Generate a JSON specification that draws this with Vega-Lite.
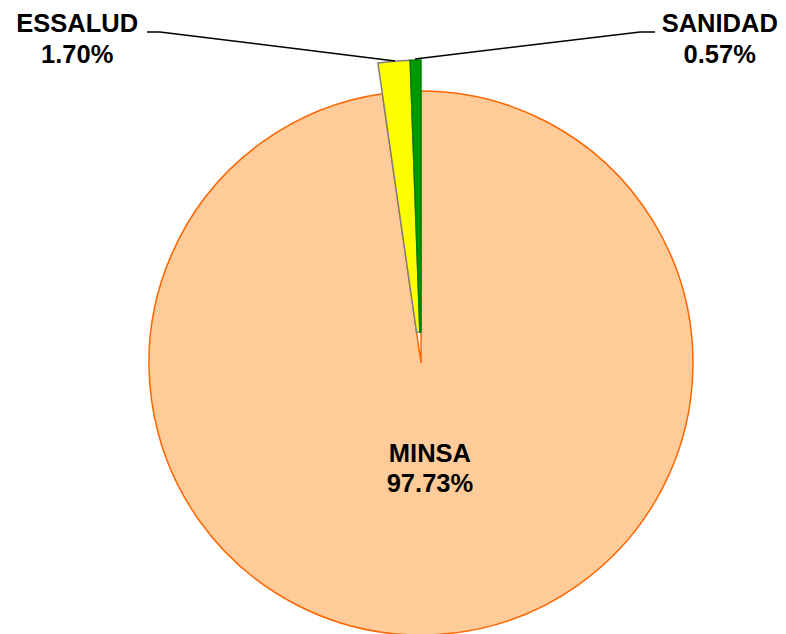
{
  "$schema": "https://vega.github.io/schema/vega-lite/v6.json",
  "width": 730,
  "height": 542,
  "autosize": {"type": "none"},
  "padding": {"left": 56, "top": 92, "right": 0, "bottom": 0},
  "background": "white",
  "view": {"stroke": null},
  "config": {"font": "Liberation Sans"},
  "datasets": {
    "slices": [
      {"cat": "MINSA", "pct": 97.73, "rank": 1, "label": ["MINSA", "97.73%"]},
      {"cat": "ESSALUD", "pct": 1.70, "rank": 2, "label": ["ESSALUD", "1.70%"]},
      {"cat": "SANIDAD", "pct": 0.57, "rank": 3, "label": ["SANIDAD", "0.57%"]}
    ],
    "leaders": [
      {"line": "ESSALUD", "seq": 1, "lx": -1.0074, "ly": 1.2169},
      {"line": "ESSALUD", "seq": 2, "lx": -0.9596, "ly": 1.2169},
      {"line": "ESSALUD", "seq": 3, "lx": -0.0956, "ly": 1.1103},
      {"line": "SANIDAD", "seq": 1, "lx": -0.0221, "ly": 1.1176},
      {"line": "SANIDAD", "seq": 2, "lx": 0.8051, "ly": 1.2169},
      {"line": "SANIDAD", "seq": 3, "lx": 0.8603, "ly": 1.2169}
    ]
  },
  "layer": [
    {
      "data": {"name": "slices"},
      "mark": {"type": "arc", "outerRadius": 272, "strokeWidth": 1.5},
      "encoding": {
        "theta": {"field": "pct", "type": "quantitative", "stack": true},
        "order": {"field": "rank", "type": "quantitative"},
        "fill": {"field": "cat", "type": "nominal", "legend": null,
          "scale": {"domain": ["MINSA", "ESSALUD", "SANIDAD"], "range": ["#FFCC99", "#FFFF00", "#009900"]}},
        "stroke": {"field": "cat", "type": "nominal", "legend": null,
          "scale": {"domain": ["MINSA", "ESSALUD", "SANIDAD"], "range": ["#FF6600", "#7F7F7F", "#008000"]}},
        "opacity": {"condition": {"test": "datum.cat === 'MINSA'", "value": 1}, "value": 0}
      }
    },
    {
      "data": {"name": "slices"},
      "mark": {"type": "arc", "innerRadius": 31, "outerRadius": 303, "strokeWidth": 1.5},
      "encoding": {
        "theta": {"field": "pct", "type": "quantitative", "stack": true},
        "order": {"field": "rank", "type": "quantitative"},
        "fill": {"field": "cat", "type": "nominal", "legend": null},
        "stroke": {"field": "cat", "type": "nominal", "legend": null},
        "opacity": {"condition": {"test": "datum.cat === 'MINSA'", "value": 0}, "value": 1}
      }
    },
    {
      "data": {"name": "leaders"},
      "mark": {"type": "line", "color": "black", "strokeWidth": 1.5},
      "encoding": {
        "x": {"field": "lx", "type": "quantitative", "axis": null, "scale": {"domain": [-1.3419, 1.3419], "nice": false, "zero": false}},
        "y": {"field": "ly", "type": "quantitative", "axis": null, "scale": {"domain": [-0.9963, 0.9963], "nice": false, "zero": false}},
        "detail": {"field": "line", "type": "nominal"},
        "order": {"field": "seq", "type": "quantitative"}
      }
    },
    {
      "data": {"name": "slices"},
      "mark": {"type": "text", "radius": 91, "thetaOffset": -0.027, "fontSize": 25.5, "fontWeight": "bold", "lineHeight": 30, "baseline": "middle", "align": "center", "color": "black"},
      "encoding": {
        "theta": {"field": "pct", "type": "quantitative", "stack": true},
        "order": {"field": "rank", "type": "quantitative"},
        "text": {"condition": {"test": "datum.cat === 'MINSA'", "field": "label"}, "value": ""}
      }
    },
    {
      "data": {"name": "slices"},
      "mark": {"type": "text", "radius": 483, "thetaOffset": -0.7028, "fontSize": 25.5, "fontWeight": "bold", "lineHeight": 31, "baseline": "middle", "align": "center", "color": "black"},
      "encoding": {
        "theta": {"field": "pct", "type": "quantitative", "stack": true},
        "order": {"field": "rank", "type": "quantitative"},
        "text": {"condition": {"test": "datum.cat === 'ESSALUD'", "field": "label"}, "value": ""}
      }
    },
    {
      "data": {"name": "slices"},
      "mark": {"type": "text", "radius": 452, "thetaOffset": 0.74, "fontSize": 25.5, "fontWeight": "bold", "lineHeight": 31, "baseline": "middle", "align": "center", "color": "black"},
      "encoding": {
        "theta": {"field": "pct", "type": "quantitative", "stack": true},
        "order": {"field": "rank", "type": "quantitative"},
        "text": {"condition": {"test": "datum.cat === 'SANIDAD'", "field": "label"}, "value": ""}
      }
    }
  ],
  "resolve": {"scale": {"theta": "shared"}}
}
